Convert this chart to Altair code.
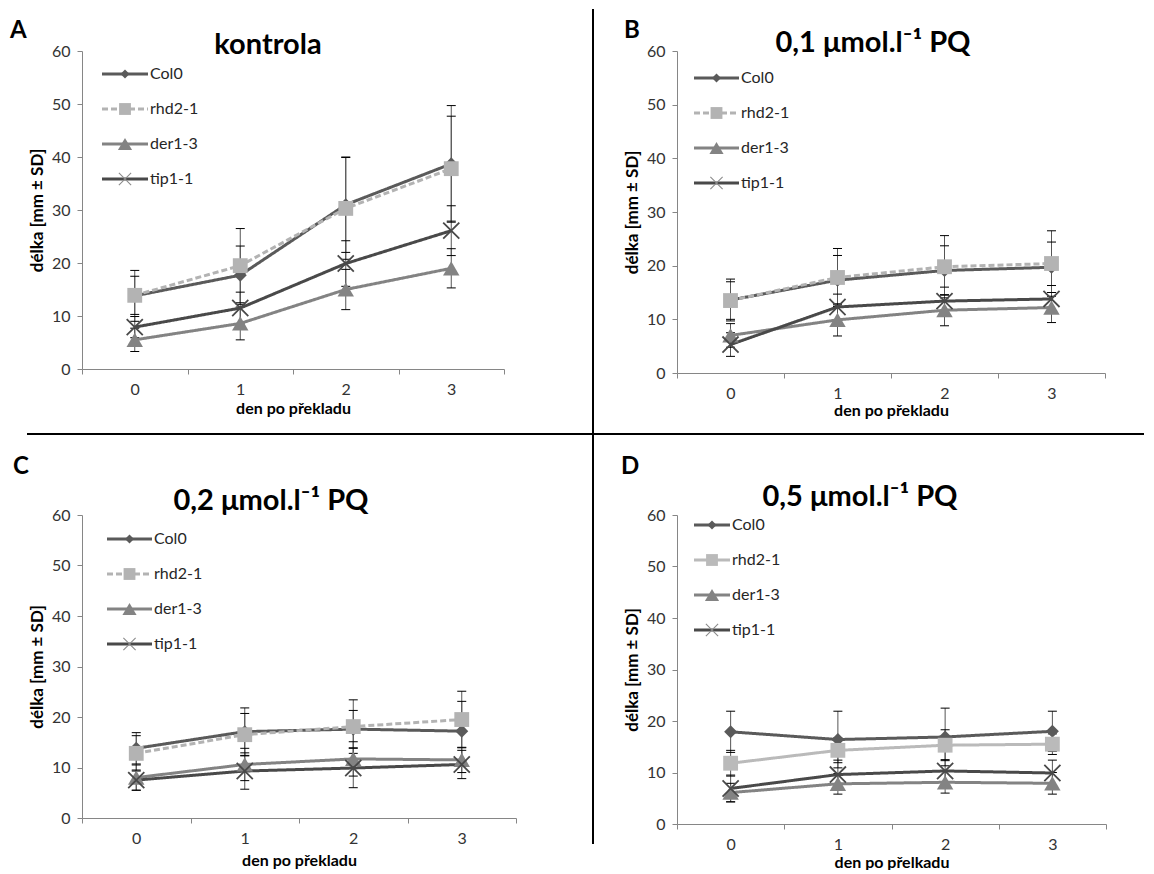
import altair as alt
import pandas as pd

days = [0, 1, 2, 3]
series = ["Col0", "rhd2-1", "der1-3", "tip1-1"]
day_ticks = [-0.5, 0.5, 1.5, 2.5, 3.5]
y_ticks = [0, 10, 20, 30, 40, 50, 60]

# Panel A - kontrola
mean_A = {"Col0": [13.8, 17.7, 31.0, 38.7], "rhd2-1": [13.9, 19.5, 30.3, 37.8],
          "der1-3": [5.5, 8.6, 15.0, 19.0], "tip1-1": [7.9, 11.5, 19.9, 26.1]}
sd_A = {"Col0": [4.8, 5.5, 9.0, 11.0], "rhd2-1": [3.6, 7.0, 9.6, 9.9],
        "der1-3": [2.2, 3.1, 3.8, 3.7], "tip1-1": [2.0, 3.0, 4.3, 4.7]}
# Panel B - 0,1 umol/l PQ
mean_B = {"Col0": [13.6, 17.3, 19.1, 19.7], "rhd2-1": [13.5, 17.8, 19.8, 20.4],
          "der1-3": [7.0, 9.9, 11.7, 12.2], "tip1-1": [5.3, 12.3, 13.4, 13.8]}
sd_B = {"Col0": [3.9, 4.6, 4.6, 4.7], "rhd2-1": [3.5, 5.4, 5.8, 6.1],
        "der1-3": [2.2, 3.0, 2.9, 2.8], "tip1-1": [2.2, 2.4, 2.6, 2.5]}
# Panel C - 0,2 umol/l PQ
mean_C = {"Col0": [13.8, 17.1, 17.6, 17.2], "rhd2-1": [12.8, 16.5, 18.1, 19.5],
          "der1-3": [8.0, 10.6, 11.7, 11.5], "tip1-1": [7.5, 9.3, 9.9, 10.6]}
sd_C = {"Col0": [3.1, 4.7, 3.7, 5.9], "rhd2-1": [3.5, 4.2, 5.3, 5.6],
        "der1-3": [2.5, 3.2, 3.4, 2.5], "tip1-1": [2.0, 3.6, 3.9, 2.8]}
# Panel D - 0,5 umol/l PQ
mean_D = {"Col0": [17.9, 16.4, 16.9, 18.0], "rhd2-1": [11.8, 14.3, 15.3, 15.5],
          "der1-3": [6.1, 7.8, 8.1, 7.9], "tip1-1": [6.9, 9.6, 10.3, 9.9]}
sd_D = {"Col0": [4.0, 5.5, 5.6, 3.9], "rhd2-1": [2.5, 2.4, 3.0, 2.0],
        "der1-3": [1.8, 2.0, 2.1, 2.1], "tip1-1": [2.6, 2.8, 2.2, 2.5]}

titles = ["kontrola", "0,1 \u03bcmol.l\u207b\u00b9 PQ", "0,2 \u03bcmol.l\u207b\u00b9 PQ", "0,5 \u03bcmol.l\u207b\u00b9 PQ"]
letters = ["A", "B", "C", "D"]
x_titles = ["den po p\u0159ekladu", "den po p\u0159ekladu", "den po p\u0159ekladu", "den po p\u0159elkadu"]
y_title = "d\u00e9lka [mm \u00b1 SD]"

FONT = "Lato"
colors_main = ["#5a5a5a", "#b3b3b3", "#838383", "#494949"]
colors_D = ["#5a5a5a", "#bababa", "#838383", "#494949"]
X_SHAPE = "M-1,-1L1,1M1,-1L-1,1"
filled_series = ["Col0", "rhd2-1", "der1-3"]
filled_shapes = ["diamond", "square", "triangle-up"]

CH = ["color", "fill", "shape", "size", "strokeDash"]


def panel(mean, sd, title, letter, xtitle, cfg):
    w, h = cfg["w"], cfg["h"]
    rows = []
    for s in series:
        for i, d in enumerate(days):
            m, e = mean[s][i], sd[s][i]
            rows.append({"day": d, "series": s, "mean": m, "lo": m - e, "hi": m + e})
    df = pd.DataFrame(rows)
    base = alt.Chart(df)
    cols = cfg["colors"]

    xenc = alt.X("day:Q", scale=alt.Scale(domain=[-0.5, 3.5], nice=False, zero=False),
                 axis=alt.Axis(values=day_ticks, title=xtitle, labelFlush=False,
                               labelExpr="datum.value < 3 ? format(datum.value + 0.5, 'd') : ''",
                               labelOffset=w / 8, titlePadding=cfg["xtp"], titleFontSize=16))
    yaxis = alt.Axis(values=y_ticks, title=y_title, titlePadding=5, titleFontSize=17)
    yscale = alt.Scale(domain=[0, 60], nice=False, zero=True)
    cscale = alt.Scale(domain=series, range=cols)
    color = alt.Color("series:N", scale=cscale, legend=None)
    fill = alt.Fill("series:N", scale=cscale, legend=None)
    dash = alt.StrokeDash("series:N", scale=alt.Scale(domain=series, range=cfg["dash"]), legend=None)
    shape = alt.Shape("series:N", scale=alt.Scale(domain=filled_series, range=filled_shapes), legend=None)
    ymean = alt.Y("mean:Q", scale=yscale, axis=yaxis)

    err = base.mark_rule(color="#555555", strokeWidth=1).encode(
        x=xenc, y=alt.Y("lo:Q", scale=yscale, axis=yaxis), y2="hi:Q")
    cap_hi = base.mark_rule(color="black", strokeWidth=1, xOffset=-4.5, x2Offset=4.5).encode(
        x=xenc, x2="day:Q", y=alt.Y("hi:Q", scale=yscale, axis=yaxis))
    cap_lo = base.mark_rule(color="black", strokeWidth=1, xOffset=-4.5, x2Offset=4.5).encode(
        x=xenc, x2="day:Q", y=alt.Y("lo:Q", scale=yscale, axis=yaxis))
    lines = base.mark_line(strokeWidth=3).encode(
        x=xenc, y=ymean, color=color, strokeDash=dash, order="day:Q")
    pts = base.transform_filter(alt.FieldOneOfPredicate(field="series", oneOf=filled_series)).mark_point(
        filled=True, opacity=1, strokeWidth=0).encode(
        x=xenc, y=ymean, shape=shape, fill=fill,
        size=alt.Size("series:N", scale=alt.Scale(domain=filled_series, range=[170, 270, 290]), legend=None))
    xpts = base.transform_filter(alt.datum.series == "tip1-1").mark_point(
        shape=X_SHAPE, filled=False, opacity=1, size=260, strokeWidth=1.8, color=cols[3]).encode(
        x=xenc, y=ymean)

    # legend drawn with marks
    leg = alt.Chart(pd.DataFrame({"series": series, "idx": [0, 1, 2, 3]})).transform_calculate(
        ly=f"{cfg['ly']} + 35 * datum.idx")
    ly = alt.Y("ly:Q", scale=None, axis=None)
    lxm = (cfg["lx0"] + cfg["lx1"]) / 2
    leg_line = leg.mark_rule(strokeWidth=3).encode(
        x=alt.value(cfg["lx0"]), x2=alt.value(cfg["lx1"]), y=ly, color=color, strokeDash=dash)
    leg_pt = leg.transform_filter(alt.FieldOneOfPredicate(field="series", oneOf=filled_series)).mark_point(
        filled=True, opacity=1, strokeWidth=0).encode(
        x=alt.value(lxm), y=ly, shape=shape, fill=fill,
        size=alt.Size("series:N", scale=alt.Scale(domain=filled_series, range=[80, 200, 170]), legend=None))
    leg_x = leg.transform_filter(alt.datum.series == "tip1-1").mark_point(
        shape=X_SHAPE, filled=False, opacity=1, size=150, strokeWidth=1.1, color="#8c8c8c").encode(
        x=alt.value(lxm), y=ly)
    leg_txt = leg.mark_text(align="left", baseline="middle", fontSize=16, font=FONT, color="#262626").encode(
        x=alt.value(cfg["lx1"] + 2), y=ly, text="series:N")

    one = alt.Chart(pd.DataFrame({"t": [title], "l": [letter]}))
    ttl = one.mark_text(align="center", baseline="alphabetic", fontSize=29, fontWeight="bold",
                        font=FONT, color="black").encode(
        x=alt.value(cfg["tx"]), y=alt.value(cfg["ty"]), text="t:N")
    let = one.mark_text(align="left", baseline="alphabetic", fontSize=24, fontWeight="bold",
                        font=FONT, color="black").encode(
        x=alt.value(cfg["ax"]), y=alt.value(cfg["ay"]), text="l:N")

    data_layers = alt.layer(err, cap_hi, cap_lo, lines, pts, xpts)
    leg_layers = alt.layer(leg_line, leg_pt, leg_x, leg_txt)
    layers = [data_layers, leg_layers, ttl, let]
    if cfg.get("dividers"):
        vline = one.mark_rule(color="black", strokeWidth=2).encode(
            x=alt.value(511), y=alt.value(-42), y2=alt.value(793))
        hline = one.mark_rule(color="black", strokeWidth=2).encode(
            x=alt.value(-55), x2=alt.value(1062), y=alt.value(383))
        layers += [vline, hline]
    return alt.layer(*layers).resolve_scale(size="independent").properties(width=w, height=h)


solid = [[1, 0], [6, 3], [1, 0], [1, 0]]
all_solid = [[1, 0], [1, 0], [1, 0], [1, 0]]

cA = dict(w=422, h=318, dash=solid, colors=colors_main, ly=23, lx0=20, lx1=66, tx=186, ty=3, ax=-72, ay=-13, xtp=3, dividers=True)
cB = dict(w=428, h=322, dash=solid, colors=colors_main, ly=27, lx0=17, lx1=62, tx=196, ty=1, ax=-53, ay=-13, xtp=1)
cC = dict(w=434, h=303, dash=solid, colors=colors_main, ly=24, lx0=25, lx1=70, tx=189, ty=-5, ax=-69, ay=-41, xtp=6)
cD = dict(w=429, h=309, dash=all_solid, colors=colors_D, ly=10, lx0=17, lx1=53, tx=183, ty=-9, ax=-56, ay=-41, xtp=2)

pA = panel(mean_A, sd_A, titles[0], letters[0], x_titles[0], cA)
pB = panel(mean_B, sd_B, titles[1], letters[1], x_titles[1], cB)
pC = panel(mean_C, sd_C, titles[2], letters[2], x_titles[2], cC)
pD = panel(mean_D, sd_D, titles[3], letters[3], x_titles[3], cD)

chart = alt.concat(pA, pB, pC, pD, columns=2, spacing={"row": 142, "column": 161},
                   bounds="flush", align="all").resolve_scale(
    **{c: "independent" for c in CH}
).properties(
    padding={"left": 2, "top": 0, "right": 0, "bottom": 0}
).configure_view(stroke=None).configure_axis(
    domainColor="#868686", tickColor="#868686", tickSize=5, grid=False,
    labelFont=FONT, labelFontSize=16, labelColor="#333333", labelPadding=7,
    titleFont=FONT, titleFontWeight="bold", titleColor="black"
).configure_text(font=FONT)

chart.save("out.html", embed_options={"renderer": "svg", "actions": False})
